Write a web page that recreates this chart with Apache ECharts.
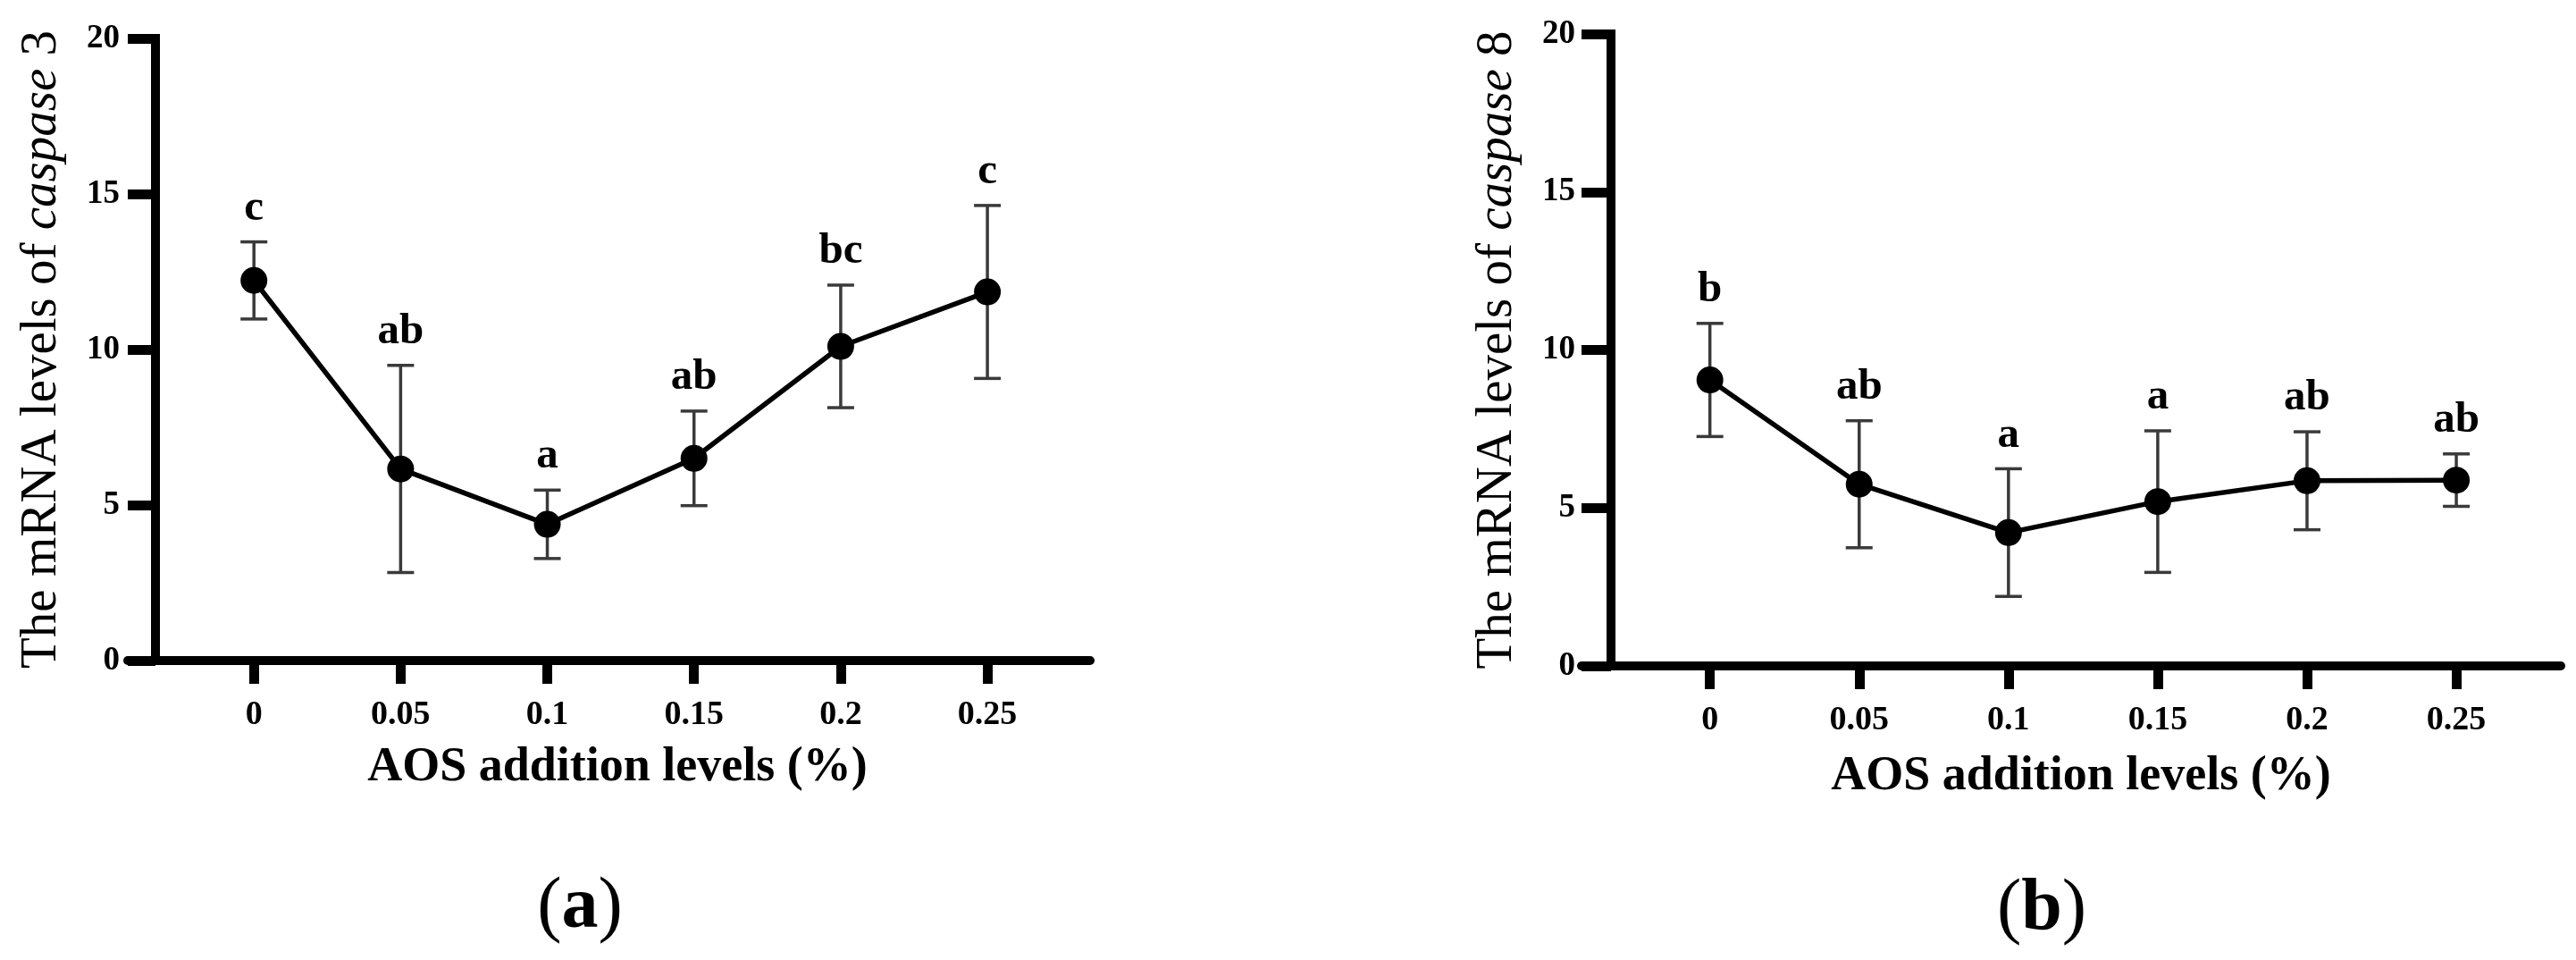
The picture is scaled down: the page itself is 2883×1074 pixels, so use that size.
<!DOCTYPE html>
<html>
<head>
<meta charset="utf-8">
<script src="https://cdn.jsdelivr.net/npm/echarts@6.0.0/dist/echarts.min.js"></script>
<style>
  html, body { margin: 0; padding: 0; background: #ffffff; }
  #chart { width: 2883px; height: 1074px; }
</style>
</head>
<body>
<div id="chart"></div>
<script>
// ---------- data ----------
const xLevels = [0, 0.05, 0.1, 0.15, 0.2, 0.25];
const xTickLabels = ['0', '0.05', '0.1', '0.15', '0.2', '0.25'];
const yTicks = [0, 5, 10, 15, 20];

const casp3Mean = [12.22, 6.16, 4.38, 6.5, 10.1, 11.85];
const casp3Err = [1.24, 3.33, 1.1, 1.52, 1.97, 2.78];
const casp3Letters = ['c', 'ab', 'a', 'ab', 'bc', 'c'];

const casp8Mean = [9.05, 5.75, 4.22, 5.2, 5.86, 5.88];
const casp8Err = [1.79, 2.01, 2.02, 2.24, 1.55, 0.83];
const casp8Letters = ['b', 'ab', 'a', 'a', 'ab', 'ab'];

const xAxisTitle = 'AOS addition levels (%)';
const yTitleA = 'The mRNA levels of {i|caspase} 3';
const yTitleB = 'The mRNA levels of {i|caspase} 8';

// ---------- helpers ----------
const FONT = 'Liberation Serif';

function seriesRows(means, errs, letters) {
  return xLevels.map((x, i) => [x, means[i], errs[i], letters[i]]);
}

function errorBarRender(params, api) {
  const x = api.value(0);
  const m = api.value(1);
  const e = api.value(2);
  const letter = api.value(3);
  const top = api.coord([x, m + e]);
  const bot = api.coord([x, m - e]);
  const half = 15;
  const st = { stroke: '#3a3a3a', lineWidth: 3.5 };
  return {
    type: 'group',
    children: [
      { type: 'line', shape: { x1: top[0], y1: top[1], x2: bot[0], y2: bot[1] }, style: st },
      { type: 'line', shape: { x1: top[0] - half, y1: top[1], x2: top[0] + half, y2: top[1] }, style: st },
      { type: 'line', shape: { x1: bot[0] - half, y1: bot[1], x2: bot[0] + half, y2: bot[1] }, style: st },
      {
        type: 'text',
        style: {
          text: String(letter), x: top[0], y: top[1] - 13,
          align: 'center', verticalAlign: 'bottom',
          font: 'bold 49px "' + FONT + '"', fill: '#000'
        }
      }
    ]
  };
}

function makeX(gridIndex) {
  return {
    type: 'value', gridIndex: gridIndex,
    min: -0.043, max: 0.285,
    axisLine: { show: true, onZero: false, lineStyle: { color: '#000', width: 10 } },
    axisTick: { show: true, customValues: xLevels, length: 26, lineStyle: { color: '#000', width: 11 } },
    axisLabel: {
      show: true, customValues: xLevels, margin: 42,
      fontFamily: FONT, fontWeight: 'bold', fontSize: 38, color: '#000',
      formatter: function (v) {
        const idx = xLevels.findIndex(t => Math.abs(t - v) < 1e-9);
        return idx >= 0 ? xTickLabels[idx] : '';
      }
    },
    splitLine: { show: false }
  };
}

function makeY(gridIndex, title, offset) {
  return {
    type: 'value', gridIndex: gridIndex,
    min: yTicks[0], max: yTicks[yTicks.length - 1], interval: 5,
    offset: offset,
    name: title, nameLocation: 'middle', nameRotate: 90, nameGap: 98,
    nameTextStyle: {
      fontFamily: FONT, fontSize: 57, color: '#000', fontWeight: 'normal',
      rich: { i: { fontFamily: FONT, fontSize: 57, fontStyle: 'italic', color: '#000' } }
    },
    axisLine: { show: true, onZero: false, lineStyle: { color: '#000', width: 10, cap: 'square' } },
    axisTick: { show: true, length: -offset, lineStyle: { color: '#000', width: 11 } },
    axisLabel: {
      margin: 40, fontFamily: FONT, fontWeight: 'bold', fontSize: 37, color: '#000',
      formatter: function (v) { return String(v); }
    },
    splitLine: { show: false }
  };
}

function lineSeries(idx, means) {
  return {
    type: 'line', xAxisIndex: idx, yAxisIndex: idx,
    data: xLevels.map((x, i) => [x, means[i]]),
    symbol: 'circle', symbolSize: 30,
    lineStyle: { color: '#000', width: 5.5 },
    itemStyle: { color: '#000' },
    z: 5, silent: true
  };
}

function errSeries(idx, means, errs, letters) {
  return {
    type: 'custom', xAxisIndex: idx, yAxisIndex: idx,
    data: seriesRows(means, errs, letters),
    renderItem: errorBarRender,
    z: 3, silent: true
  };
}

const chart = echarts.init(document.getElementById('chart'));
chart.setOption({
  backgroundColor: '#ffffff',
  animation: false,
  grid: [
    { left: 143, top: 43, width: 1077, height: 696 },
    { left: 1770, top: 38, width: 1096, height: 707 }
  ],
  xAxis: [makeX(0), makeX(1)],
  yAxis: [makeY(0, yTitleA, -31), makeY(1, yTitleB, -33)],
  series: [
    errSeries(0, casp3Mean, casp3Err, casp3Letters),
    lineSeries(0, casp3Mean),
    errSeries(1, casp8Mean, casp8Err, casp8Letters),
    lineSeries(1, casp8Mean)
  ],
  graphic: [
    { type: 'text', x: 691, y: 859,
      style: { text: xAxisTitle, align: 'center', verticalAlign: 'middle',
               font: 'bold 54px "' + FONT + '"', fill: '#000' } },
    { type: 'text', x: 2329, y: 869,
      style: { text: xAxisTitle, align: 'center', verticalAlign: 'middle',
               font: 'bold 54px "' + FONT + '"', fill: '#000' } },
    { type: 'text', x: 649, y: 1016,
      style: { text: '{p|(}{b|a}{p|)}', align: 'center', verticalAlign: 'middle',
               rich: { p: { fontFamily: FONT, fontSize: 82, fill: '#000' },
                       b: { fontFamily: FONT, fontSize: 82, fontWeight: 'bold', fill: '#000' } } } },
    { type: 'text', x: 2285, y: 1018,
      style: { text: '{p|(}{b|b}{p|)}', align: 'center', verticalAlign: 'middle',
               rich: { p: { fontFamily: FONT, fontSize: 82, fill: '#000' },
                       b: { fontFamily: FONT, fontSize: 82, fontWeight: 'bold', fill: '#000' } } } }
  ]
});
</script>
</body>
</html>
